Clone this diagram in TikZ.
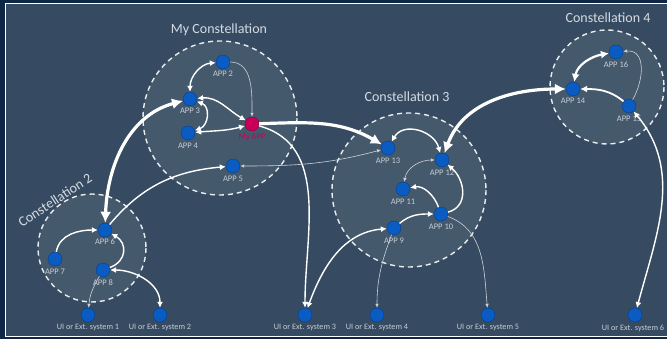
\documentclass[tikz,border=0pt]{standalone}
\usepackage{fontspec}
\setmainfont{Carlito}
\usetikzlibrary{arrows.meta}
\definecolor{bgdark}{HTML}{0E2745}
\definecolor{slate}{HTML}{364B61}
\definecolor{appblue}{HTML}{0A5CC2}
\definecolor{appmag}{HTML}{C8005A}
\definecolor{labgrey}{HTML}{C5CDD7}
\definecolor{titgrey}{HTML}{D5DBE2}
\tikzset{
  app/.style={circle,fill=appblue,draw=appblue!70!black,line width=0.4pt,minimum size=14pt,inner sep=0pt},
  lab/.style={font=\fontsize{8.5}{9}\selectfont,text=labgrey},
  uilab/.style={font=\fontsize{8.2}{9}\selectfont,text=labgrey},
  title/.style={font=\fontsize{14}{15}\selectfont,text=titgrey},
  constel/.style={draw=white!90!slate,fill=white,fill opacity=0.08,draw opacity=1,line width=1.4pt,dash pattern=on 5pt off 4pt},
  thick arr/.style={draw=white,line width=3.2pt,-{Latex[length=11pt,width=11pt]}},
  thick both/.style={draw=white,line width=3.2pt,{Latex[length=11pt,width=11pt]}-{Latex[length=11pt,width=11pt]}},
  med arr/.style={draw=white,line width=1.4pt,-{Latex[length=6pt,width=6pt]}},
  med both/.style={draw=white,line width=1.4pt,{Latex[length=6pt,width=6pt]}-{Latex[length=6pt,width=6pt]}},
  thin arr/.style={draw=white!75!slate,line width=0.6pt,-{Latex[length=4pt,width=3.5pt]}},
  thin both/.style={draw=white!75!slate,line width=0.6pt,{Latex[length=4pt,width=3.5pt]}-{Latex[length=4pt,width=3.5pt]}},
}
\begin{document}
\begin{tikzpicture}[x=1pt,y=-1pt]
\useasboundingbox (0,0) rectangle (667,339);
\fill[bgdark] (0,0) rectangle (667,339);
\fill[slate] (6,4) rectangle (667,336);
\draw[white,line width=1.2pt] (5.5,3.5) -- (668,3.5);
\draw[white,line width=1.2pt] (5.5,3.5) -- (5.5,336.5) -- (668,336.5);

% constellations
\path[constel] (220,118) circle (77);
\path[constel] (409,190) circle (77);
\path[constel] (607,87) circle (57);
\path[constel] (92,248) circle (54);

\node[title] (t1) at (219,30) {My Constellation};
\node[title] (t3) at (407,97) {Constellation 3};
\node[title] (t4) at (608,18) {Constellation 4};
\node[title,rotate=33] (t2) at (55,200) {Constellation 2};

% apps
\node[app] (app2) at (223,62) {};
\node[app] (app3) at (190,99) {};
\node[app] (app4) at (188,133) {};
\node[app,fill=appmag,draw=appmag!70!black] (myapp) at (252,124) {};
\node[app] (app5) at (233,166) {};
\node[app] (app13) at (388,148) {};
\node[app] (app12) at (442,160) {};
\node[app] (app11) at (403,189) {};
\node[app] (app10) at (441,214) {};
\node[app] (app9) at (394,228) {};
\node[app] (app16) at (616,52) {};
\node[app] (app14) at (573,89) {};
\node[app] (app15) at (629,106) {};
\node[app] (app6) at (105,230) {};
\node[app] (app7) at (55,259) {};
\node[app] (app8) at (103,270) {};
\node[app] (ui1) at (88,315) {};
\node[app] (ui2) at (160,315) {};
\node[app] (ui3) at (305,315) {};
\node[app] (ui4) at (377,315) {};
\node[app] (ui5) at (488,315) {};
\node[app] (ui6) at (635,315) {};

% labels
\node[lab] (l2) at (223,74) {APP 2};
\node[lab] (l3) at (190,111) {APP 3};
\node[lab] (l4) at (188,146) {APP 4};
\node[lab,text=appmag] (lm) at (252,137) {My APP};
\node[lab] (l5) at (233,179) {APP 5};
\node[lab] (l13) at (388,161) {APP 13};
\node[lab] (l12) at (442,173) {APP 12};
\node[lab] (l11) at (403,202) {APP 11};
\node[lab] (l10) at (441,227) {APP 10};
\node[lab] (l9) at (394,241) {APP 9};
\node[lab] (l16) at (616,65) {APP 16};
\node[lab] (l14) at (573,101) {APP 14};
\node[lab] (l15) at (629,119) {APP 15};
\node[lab] (l6) at (105,242) {APP 6};
\node[lab] (l7) at (55,272) {APP 7};
\node[lab] (l8) at (103,283) {APP 8};
\node[uilab] (lu1) at (88,328) {UI or Ext. system 1};
\node[uilab] (lu2) at (160,328) {UI or Ext. system 2};
\node[uilab] (lu3) at (305,328) {UI or Ext. system 3};
\node[uilab] (lu4) at (377,328) {UI or Ext. system 4};
\node[uilab] (lu5) at (488,328) {UI or Ext. system 5};
\node[uilab] (lu6) at (633,328) {UI or Ext. system 6};

% thick connectors
\draw[thick both] (app6) to[out=88,in=195] (app3);
\draw[thick arr] (myapp) to[out=2,in=150] (app13);
\draw[thick both] (app12) to[out=70,in=180] (app14);
\draw[med both,line width=2.2pt,{Latex[length=8pt,width=8pt]}-{Latex[length=8pt,width=8pt]}] (app14) to[out=80,in=190] (app16);
\draw[med arr,line width=1.8pt,-{Latex[length=7pt,width=7pt]}] (app15) to[out=140,in=0] (app14);
\draw[thin arr] (app15) to[out=60,in=5,looseness=1.2] (app16);
\draw[med both] (app15) to[out=-50,in=75] (ui6);

% my constellation
\draw[med both] (app3) to[out=90,in=185] (app2);
\draw[thin arr] (app2) to[out=0,in=90] (myapp);
\draw[med both] (app3) to[out=5,in=150] (myapp);
\draw[med both] (app4) to[out=5,in=195] (myapp);
\draw[med both] (app3) to[out=-20,in=20,looseness=1.3] (app4);
\draw[med arr] (myapp) to[out=-15,in=90] (ui3);
\draw[med arr] (app6) to[out=50,in=185] (app5);
\draw[thin both] (app13) to[out=195,in=0] (app5);

% constellation 3
\draw[med both] (app13) to[out=60,in=105,looseness=1.2] (app12);
\draw[thin both] (app12) to[out=180,in=80] (app11);
\draw[med arr] (app10) to[out=110,in=10] (app11);
\draw[med arr] (app10) to[out=15,in=-40,looseness=1.2] (app12);
\draw[med arr] (app9) to[out=40,in=180] (app10);
\draw[med both] (ui3) to[out=70,in=185] (app9);
\draw[thin arr] (app9) to[out=-110,in=90] (ui4);
\draw[thin arr] (app10) to[out=-20,in=95] (ui5);

% constellation 2
\draw[med arr] (app7) to[out=80,in=180] (app6);
\draw[med arr] (app8) to[out=20,in=-30,looseness=1.4] (app6);
\draw[thin arr] (app8) to[out=-120,in=85] (ui1);
\draw[med both] (app8) to[out=0,in=90] (ui2);
\end{tikzpicture}
\end{document}
